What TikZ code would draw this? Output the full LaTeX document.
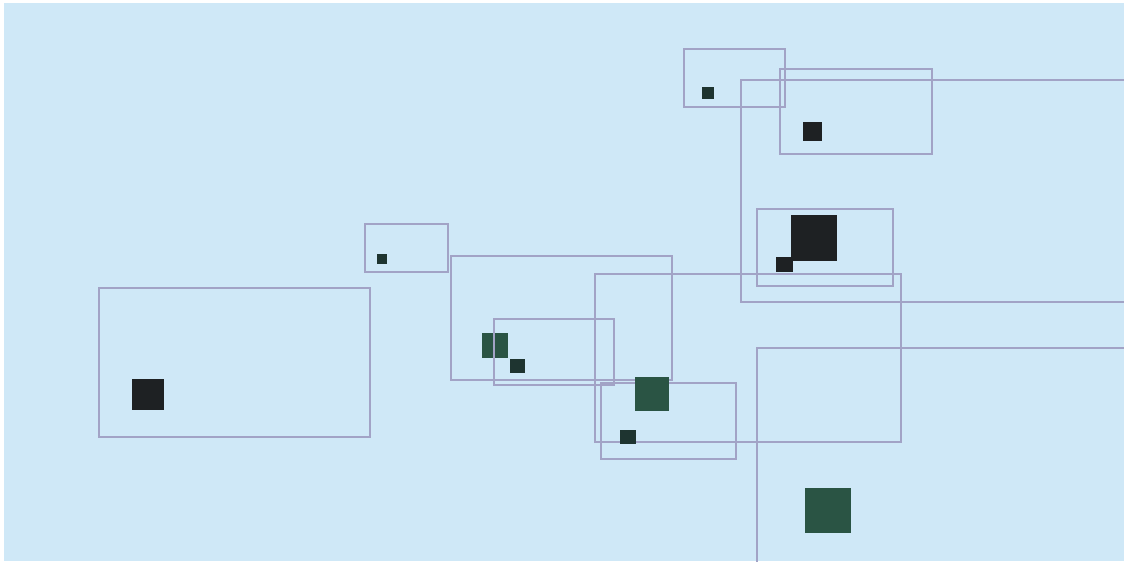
\documentclass[tikz,border=0pt]{standalone}
\usepackage{tikz}

\definecolor{paper}{RGB}{207,232,247}
\definecolor{framec}{RGB}{162,163,198}
\definecolor{ink}{RGB}{30,33,35}
\definecolor{teal}{RGB}{30,52,48}
\definecolor{moss}{RGB}{42,84,68}

\tikzset{
  box/.style={draw=framec, line width=0.6pt},
  blk/.style={fill=ink},
  dk/.style={fill=teal},
  grn/.style={fill=moss}
}

\begin{document}
\begin{tikzpicture}[x=0.02cm, y=-0.02cm]
    \useasboundingbox (0,0) rectangle (1124,567);
    \fill[white] (0,0) rectangle (1124,567);
    \fill[paper] (4,3) rectangle (1124,561);
    \clip (4,3) rectangle (1124,561);

    % boxes
    \draw[box] (684,49) rectangle (785,107);
    \draw[box] (780,69) rectangle (932,154);
    \draw[box] (741,80) rectangle (1140,302);
    \draw[box] (757,209) rectangle (893,286);
    \draw[box] (365,224) rectangle (448,272);
    \draw[box] (99,288) rectangle (370,437);
    \draw[box] (451,256) rectangle (672,380);
    \draw[box] (595,274) rectangle (901,442);
    \draw[box] (601,383) rectangle (736,459);
    \draw[box] (757,348) rectangle (1140,580);

    % squares
    \fill[dk]  (702,87) rectangle (714,99);
    \fill[blk] (803,122) rectangle (822,141);
    \fill[blk] (791,215) rectangle (837,261);
    \fill[blk] (776,257) rectangle (793,272);
    \fill[dk]  (377,254) rectangle (387,264);
    \fill[blk] (132,379) rectangle (164,410);
    \fill[grn] (482,333) rectangle (508,358);
    \fill[dk]  (510,359) rectangle (525,373);
    \fill[grn] (635,377) rectangle (669,411);
    \fill[dk]  (620,430) rectangle (636,444);
    \fill[grn] (805,488) rectangle (851,533);

    \draw[box] (494,319) rectangle (614,385);
\end{tikzpicture}
\end{document}
